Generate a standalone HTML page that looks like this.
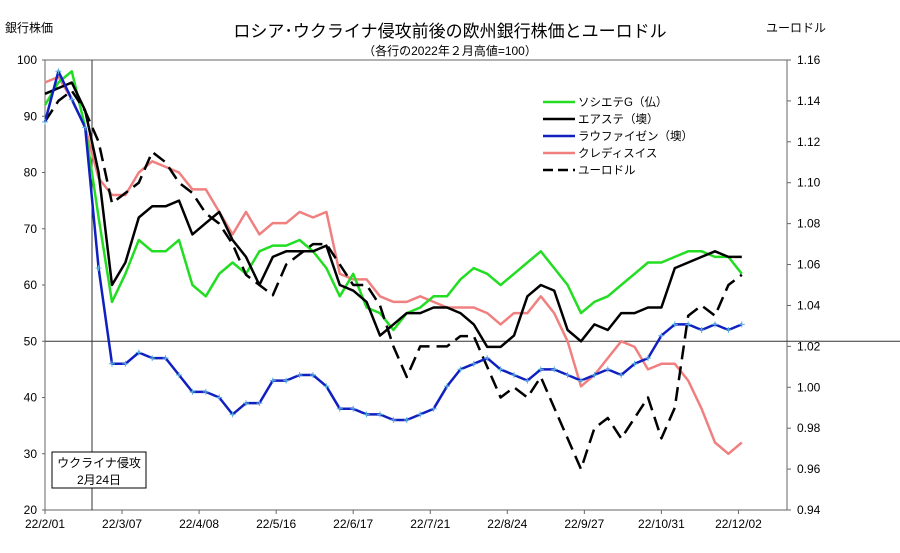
<!DOCTYPE html>
<html><head><meta charset="utf-8">
<style>
body{margin:0;background:#fff;}
svg text{font-family:"Liberation Sans","Noto Sans CJK JP",sans-serif;}
</style></head>
<body>
<svg id="chart" width="900" height="548" viewBox="0 0 900 548" xmlns="http://www.w3.org/2000/svg">
<rect width="900" height="548" fill="#fff"/>
<text x="450" y="37" text-anchor="middle" font-size="17">ロシア･ウクライナ侵攻前後の欧州銀行株価とユーロドル</text>
<text x="450" y="55" text-anchor="middle" font-size="12">（各行の2022年２月高値=100）</text>
<text x="5" y="32" font-size="12">銀行株価</text>
<text x="766" y="32" font-size="12">ユーロドル</text>
<g id="axes"></g>
<g id="series"></g>
<g>
<line x1="543" y1="102" x2="575" y2="102" stroke="#22dd22" stroke-width="2.5"/>
<text x="578" y="106" font-size="11.5">ソシエテG（仏）</text>
<line x1="543" y1="119" x2="575" y2="119" stroke="#000" stroke-width="2.5"/>
<text x="578" y="123" font-size="11.5">エアステ（墺）</text>
<line x1="543" y1="136" x2="575" y2="136" stroke="#1020c0" stroke-width="2.5"/>
<text x="578" y="140" font-size="11.5">ラウファイゼン（墺）</text>
<line x1="543" y1="153" x2="575" y2="153" stroke="#f08080" stroke-width="2.5"/>
<text x="578" y="157" font-size="11.5">クレディスイス</text>
<line x1="543" y1="170" x2="575" y2="170" stroke="#000" stroke-width="2.5" stroke-dasharray="10,5"/>
<text x="578" y="174" font-size="11.5">ユーロドル</text>
</g>
<g>
<rect x="52" y="452" width="94" height="36" fill="#fff" stroke="#000" stroke-width="1"/>
<text x="99" y="467" text-anchor="middle" font-size="12">ウクライナ侵攻</text>
<text x="99" y="484" text-anchor="middle" font-size="12">2月24日</text>
</g>
</svg>
<script>
const xTickLabels=["22/2/01","22/3/07","22/4/08","22/5/16","22/6/17","22/7/21","22/8/24","22/9/27","22/10/31","22/12/02"];
const leftTicks=[20,30,40,50,60,70,80,90,100];
const rightTicks=[0.94,0.96,0.98,1.00,1.02,1.04,1.06,1.08,1.10,1.12,1.14,1.16];
const socgen=[92,96,98,88,72,57,62,68,66,66,68,60,58,62,64,62,66,67,67,68,66,63,58,62,56,55,52,55,56,58,58,61,63,62,60,62,64,66,63,60,55,57,58,60,62,64,64,65,66,66,65,65,62];
const erste=[94,95,96,91,80,60,64,72,74,74,75,69,71,73,68,65,60,65,66,66,66,67,60,59,57,51,53,55,55,56,56,55,53,49,49,51,58,60,59,52,50,53,52,55,55,56,56,63,64,65,66,65,65];
const raiffeisen=[89,98,93,88,63,46,46,48,47,47,44,41,41,40,37,39,39,43,43,44,44,42,38,38,37,37,36,36,37,38,42,45,46,47,45,44,43,45,45,44,43,44,45,44,46,47,51,53,53,52,53,52,53];
const creditSuisse=[96,97,93,88,79,76,76,80,82,81,80,77,77,73,69,73,69,71,71,73,72,73,62,61,61,58,57,57,58,57,56,56,56,55,53,55,55,58,55,50,42,44,47,50,49,45,46,46,43,38,32,30,32];
const eurusd=[1.13,1.14,1.145,1.135,1.12,1.09,1.095,1.10,1.115,1.11,1.10,1.095,1.085,1.08,1.07,1.055,1.05,1.045,1.06,1.065,1.07,1.07,1.06,1.05,1.05,1.04,1.02,1.005,1.02,1.02,1.02,1.025,1.025,1.01,0.995,1.0,0.995,1.005,0.99,0.975,0.96,0.98,0.985,0.975,0.985,0.995,0.975,0.99,1.035,1.04,1.035,1.05,1.055];

const NS="http://www.w3.org/2000/svg";
const L=45,R=787,T=60,B=510;
const STEP=4, PX=3.35;
const xScale=i=>L+i*STEP*PX;
const yL=v=>B-(v-20)/80*(B-T);
const yR=v=>B-(v-0.94)/0.22*(B-T);
function mk(tag,attrs,parent){const e=document.createElementNS(NS,tag);for(const k in attrs)e.setAttribute(k,attrs[k]);parent.appendChild(e);return e;}
const ax=document.getElementById('axes');
const fr=mk('rect',{x:L,y:T,width:R-L,height:B-T,fill:'none',stroke:'#666','stroke-width':1},ax);


leftTicks.forEach(v=>{const t=mk('text',{x:L-8,y:yL(v)+4,'text-anchor':'end','font-size':12},ax);t.textContent=v;


mk('line',{x1:L-3,x2:L,y1:yL(v),y2:yL(v),stroke:'#666'},ax);});
rightTicks.forEach(v=>{const t=mk('text',{x:R+10,y:yR(v)+4,'font-size':12},ax);t.textContent=v.toFixed(2);


mk('line',{x1:R,x2:R+4,y1:yR(v),y2:yR(v),stroke:'#666'},ax);});
xTickLabels.forEach((s,k)=>{const x=L+k*23*PX;const t=mk('text',{x:x,y:528,'text-anchor':'middle','font-size':12},ax);t.textContent=s;


mk('line',{x1:x,x2:x,y1:B,y2:B+4,stroke:'#666'},ax);});
const hl=mk('line',{x1:L,x2:900,y1:yL(50),y2:yL(50),stroke:'#333','stroke-width':1},ax);


const vl=mk('line',{x1:92,x2:92,y1:T,y2:B,stroke:'#333','stroke-width':1},ax);



const sg=document.getElementById('series');
function line(arr,yf,color,name,dash){
  const d=arr.map((v,i)=>(i?'L':'M')+xScale(i).toFixed(1)+','+yf(v).toFixed(1)).join('');
  const p=mk('path',{d:d,fill:'none',stroke:color,'stroke-width':2.5,'stroke-linejoin':'round'},sg);
  if(dash)p.setAttribute('stroke-dasharray',dash);
  
  
  return p;
}
line(creditSuisse,yL,'#f08080','credit-suisse-line');
line(socgen,yL,'#22dd22','socgen-line');
line(erste,yL,'#000','erste-line');
line(eurusd,yR,'#000','eurusd-line','14,7');
line(raiffeisen,yL,'#1020c0','raiffeisen-line');
raiffeisen.forEach((v,i)=>{const x=xScale(i),y=yL(v);
 const m=mk('path',{d:`M${x-3},${y}h6M${x},${y-3}v6`,stroke:'#5ab0e0','stroke-width':1},sg);
 
 });
</script>
</body></html>
